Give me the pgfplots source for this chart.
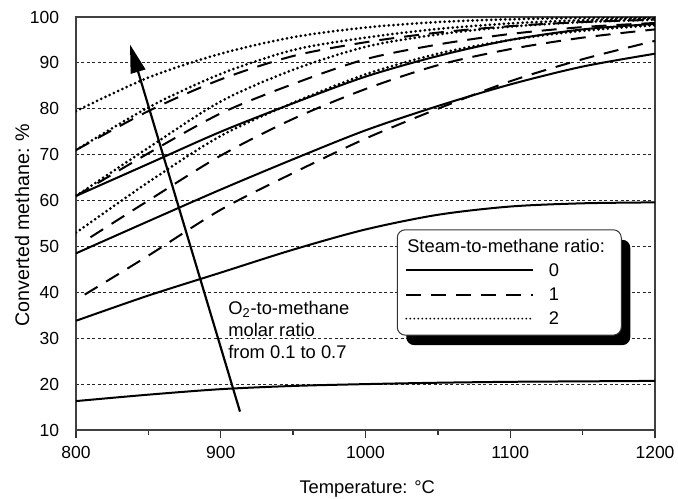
\documentclass[border=0pt]{standalone}
\usepackage{fontspec}
\setmainfont{Liberation Sans}
\usepackage{pgfplots}
\pgfplotsset{compat=1.18}
\usetikzlibrary{arrows.meta,shadows}

\makeatletter
\tikzset{no preactions/.code={\let\tikz@preactions\pgfutil@empty}}
\makeatother

% line styles for the three steam-to-methane ratios
\tikzset{
  s0/.style={black, line width=1.2pt, smooth},
  s1/.style={black, line width=1.2pt, dash pattern=on 9pt off 6pt, smooth},
  s2/.style={black, line width=1.8pt, dash pattern=on 0pt off 2.8pt, line cap=round, smooth},
}

\begin{document}
\fontsize{11}{13.2}\selectfont
\begin{tikzpicture}[font=\fontsize{11}{13.2}\selectfont]
\useasboundingbox (-45.6pt,-41.4pt) rectangle (361.2pt,258pt);
\begin{axis}[
  at={(0,0)}, anchor=south west,
  scale only axis, width=347.4pt, height=247.8pt,
  xmin=800, xmax=1200, ymin=10, ymax=100,
  xtick={800,900,...,1200},
  minor xtick={850,950,1050,1150},
  ytick={10,20,...,100},
  xtick pos=bottom, tick align=outside,
  major tick length=5pt, minor tick length=3pt,
  tick style={black!80, line width=0.8pt},
  ytick style={draw=none},
  axis line style={black!75, line width=0.8pt},
  ymajorgrids,
  major grid style={black!85, line width=0.6pt, dash pattern=on 1.8pt off 1.5pt},
  tick label style={font=\fontsize{10.5}{12.6}\selectfont},
  /pgf/number format/assume math mode=true,
  /pgf/number format/1000 sep={},
  xticklabel style={yshift=-1.2pt},
  yticklabel style={xshift=-1.3pt},
  xlabel={Temperature: °C},
  ylabel={Converted methane: \%},
  every axis x label/.style={at={(axis description cs:0.503,-0.143)}, anchor=center},
  every axis y label/.style={at={(axis description cs:-0.0933,0.496)}, anchor=center, rotate=90,
    font=\fontsize{11.8}{14}\selectfont},
  legend image code/.code={\draw[no preactions,#1] (0pt,0pt) -- (76pt,0pt);},
  legend style={
    at={(rel axis cs:0.554,0.486)}, anchor=north west,
    draw=black!80, line width=0.6pt, fill=white, rounded corners=4.8pt,
    drop shadow={shadow xshift=5.4pt, shadow yshift=-6pt, fill=black, opacity=1},
    inner xsep=4.8pt, inner ysep=3.6pt,
    row sep=2pt, column sep=9pt,
    nodes={inner sep=0pt, text height=10pt, text depth=2.5pt},
  },
  legend cell align=left,
]
% steam ratio 0
\addplot[s0, forget plot] coordinates {(800,16.3)(850,17.7)(900,18.9)(950,19.6)(1000,20.0)(1050,20.3)(1100,20.5)(1150,20.6)(1200,20.7)};
\addplot[s0, forget plot] coordinates {(800,33.8)(850,39.3)(900,44.3)(950,49.3)(1000,53.7)(1050,56.9)(1100,58.7)(1150,59.4)(1200,59.6)};
\addplot[s0, forget plot] coordinates {(800,48.5)(850,55.5)(900,62.4)(950,69)(1000,75.3)(1050,80.6)(1100,85.3)(1150,89.2)(1200,92)};
\addplot[s0, forget plot] coordinates {(800,61)(850,68)(900,75)(950,81.2)(1000,87)(1050,91.5)(1100,95)(1150,97.3)(1200,98.5)};
% steam ratio 1
\addplot[s1, forget plot] coordinates {(806,39.5)(850,48)(900,58)(950,66)(1000,73.5)(1050,80)(1100,86)(1150,90.8)(1200,94.8)};
\addplot[s1, forget plot] coordinates {(810,52)(850,60)(900,69.8)(950,77.8)(1000,84.3)(1050,89.5)(1100,93)(1150,95.5)(1200,97.3)};
\addplot[s1, forget plot] coordinates {(800,61)(850,70.3)(900,79)(950,85.4)(1000,90.8)(1050,94)(1100,96.3)(1150,97.8)(1200,98.7)};
\addplot[s1, forget plot] coordinates {(800,71)(850,79.5)(900,86.4)(950,91.5)(1000,94.5)(1050,96.6)(1100,98)(1150,98.9)(1200,99.4)};
% steam ratio 2
\addplot[s2, forget plot] coordinates {(800,53)(850,64)(900,74.1)(950,81.3)(1000,87.5)(1050,92)(1100,95)(1150,97)(1200,98.2)};
\addplot[s2, forget plot] coordinates {(800,61)(850,71.5)(900,81.6)(950,88.5)(1000,93.5)(1050,96.2)(1100,97.9)(1150,98.9)(1200,99.4)};
\addplot[s2, forget plot] coordinates {(800,71)(850,80.3)(900,87.6)(950,92.8)(1000,95.5)(1050,97.4)(1100,98.6)(1150,99.3)(1200,99.7)};
\addplot[s2, forget plot] coordinates {(800,79.5)(850,86.8)(900,92)(950,95.6)(1000,97.7)(1050,98.9)(1100,99.5)(1150,99.8)(1200,99.9)};

\addlegendimage{empty legend}
\addlegendentry{\hspace*{-85pt}Steam-to-methane ratio:\hspace*{5pt}}
\addlegendimage{s0}\addlegendentry{0}
\addlegendimage{s1}\addlegendentry{1}
\addlegendimage{black, line width=1.2pt, dash pattern=on 0pt off 2.4pt, line cap=round}\addlegendentry{2}

% arrow: increasing O2-to-methane ratio
\draw[black, line width=1.3pt, -{Triangle[length=17pt, width=9pt]}]
  (axis cs:913.3,14) -- (axis cs:837.3,94);
\node[anchor=west, align=left, inner sep=0pt] at (axis cs:905,31.8)
  {O\textsubscript{2}-to-methane\\molar ratio\\from 0.1 to 0.7};
\end{axis}
\end{tikzpicture}
\end{document}
